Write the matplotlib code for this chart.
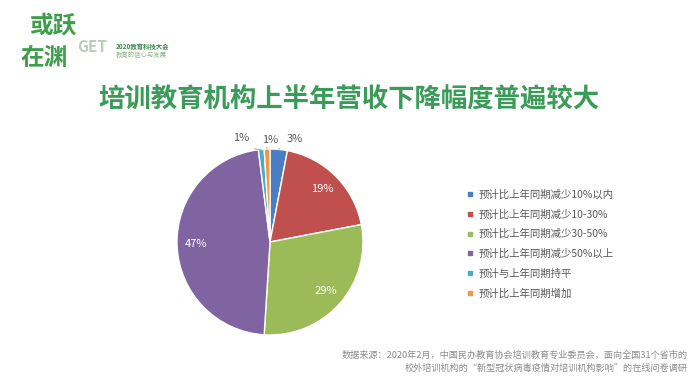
import numpy as np
import matplotlib
matplotlib.use("Agg")
import matplotlib.pyplot as plt
from matplotlib.lines import Line2D

plt.rcParams['font.family'] = ['Noto Sans CJK SC', 'DejaVu Sans']

# ----------------------------
# Data
# ----------------------------
labels = ["预计比上年同期减少10%以内", "预计比上年同期减少10-30%", "预计比上年同期减少30-50%",
          "预计比上年同期减少50%以上", "预计与上年同期持平", "预计比上年同期增加"]
values = [3, 19, 29, 47, 1, 1]
colors = ["#4a7ec4", "#c0504d", "#9bbb59", "#8064a2", "#4bacc6", "#f79646"]
inside = [False, True, True, True, False, False]
# offsets (data units) of outside labels relative to the wedge edge
out_offsets = {0: (0.17, 0.11), 4: (-0.22, 0.12), 5: (0.03, 0.10)}

title = "培训教育机构上半年营收下降幅度普遍较大"
source1 = "数据来源：2020年2月，中国民办教育协会培训教育专业委员会，面向全国31个省市的"
source2 = "校外培训机构的“新型冠状病毒疫情对培训机构影响”的在线问卷调研"

W, H = 700, 380
fig = plt.figure(figsize=(W / 100, H / 100), dpi=100)
fig.patch.set_facecolor("white")

# pie axes: centre (270, 242) px, radius 93 px
cx, cy, r = 270, 242, 93
ax = fig.add_axes([(cx - r) / W, (H - cy - r) / H, 2 * r / W, 2 * r / H])
wedges, _ = ax.pie(values, colors=colors, startangle=90, counterclock=False,
                   radius=1.0, wedgeprops=dict(edgecolor="white", linewidth=1.0))
ax.set_xlim(-1, 1)
ax.set_ylim(-1, 1)
ax.set_aspect("auto")
ax.axis("off")

total = float(sum(values))
cum = 0.0
for i, v in enumerate(values):
    theta = np.deg2rad(90 - 360 * (cum + v / 2) / total)
    cum += v
    txt = f"{v}%"
    if inside[i]:
        ax.text(0.8 * np.cos(theta), 0.8 * np.sin(theta), txt, color="white",
                fontsize=8, ha="center", va="center")
    else:
        ex, ey = np.cos(theta), np.sin(theta)
        dx, dy = out_offsets[i]
        ax.annotate(txt, xy=(ex, ey), xytext=(ex + dx, ey + dy), fontsize=8,
                    color="#595959", ha="center", va="center", annotation_clip=False,
                    arrowprops=dict(arrowstyle="-", color="#a6a6a6", lw=0.7,
                                    shrinkA=5, shrinkB=0,
                                    connectionstyle="arc3,rad=0.3"))

# legend
handles = [Line2D([0], [0], marker="s", color="none", markerfacecolor=c,
                  markeredgecolor=c, markersize=3) for c in colors]
fig.legend(handles, labels, loc="upper left", bbox_to_anchor=(462 / W, 1 - 184 / H),
           frameon=False, fontsize=7.5, handlelength=0.6, handletextpad=0.5,
           labelspacing=0.92, labelcolor="#595959", borderpad=0)

# title
fig.text(349 / W, 1 - 100 / H, title, color="#3b9b58", fontsize=19, fontweight="bold",
         ha="center", va="center")

# logo
fig.text(30 / W, 1 - 26 / H, "或跃", color="#3f9e4b", fontsize=17, fontweight="bold",
         ha="left", va="center")
fig.text(20 / W, 1 - 58 / H, "在渊", color="#3f9e4b", fontsize=17, fontweight="bold",
         ha="left", va="center")
fig.text(77 / W, 1 - 47 / H, "GET", color="#b9cdb9", fontsize=11, fontweight="bold",
         ha="left", va="center")
fig.text(116 / W, 1 - 46 / H, "2020教育科技大会", color="#3c8a4a", fontsize=4.6,
         fontweight="bold", ha="left", va="center")
fig.text(116 / W, 1 - 55 / H, "教育的信心与发展", color="#8fb08f", fontsize=4.6,
         ha="left", va="center")

# source note
fig.text(688 / W, 1 - 355 / H, source1, color="#8c8c8c", fontsize=6.6, ha="right", va="center")
fig.text(688 / W, 1 - 368 / H, source2, color="#8c8c8c", fontsize=6.6, ha="right", va="center")

fig.savefig("out.png", dpi=100)
